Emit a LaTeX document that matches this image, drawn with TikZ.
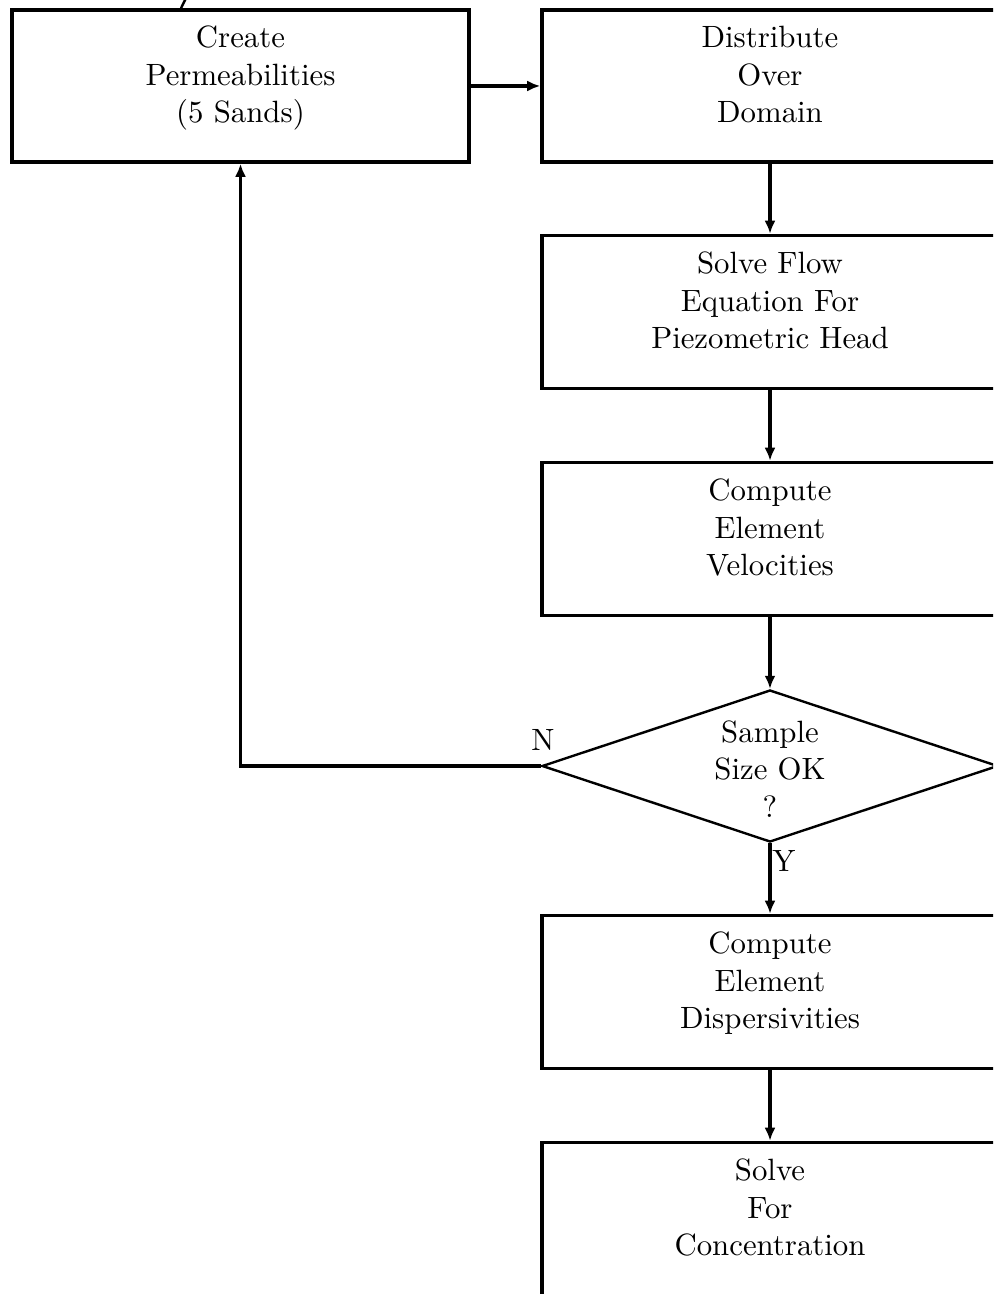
\documentclass[tikz,border=0pt]{standalone}
\usetikzlibrary{shapes.geometric,arrows.meta}
\begin{document}
\begin{tikzpicture}[x=0.5pt,y=-0.5pt,
  boxnode/.style={draw,line width=1.8pt,rectangle,inner sep=0pt,minimum width=228pt,minimum height=76.5pt},
  decnode/.style={draw,line width=1.2pt,diamond,inner sep=0pt,minimum width=228pt,minimum height=76pt},
  txt/.style={align=center,font=\fontsize{10}{12.18}\selectfont,inner sep=0pt,scale=1.54,transform shape,
    execute at begin node=\strut,execute at end node=\strut},
  lbl/.style={font=\fontsize{10}{12.18}\selectfont,inner sep=0pt,scale=1.54,transform shape},
  conn/.style={line width=1.6pt,-{Latex[length=6.5pt,width=5.5pt]}}]
\useasboundingbox (0,0) rectangle (993,1294);
\clip (0,0) rectangle (993,1294);
% boxes
\node[boxnode,minimum width=228.5pt,minimum height=76pt] (b1) at (240.5,86) {};
\node[boxnode,minimum height=76pt] (b2) at (770,86) {};
\node[boxnode] (b3) at (770,312) {};
\node[boxnode] (b4) at (770,539) {};
\node[decnode] (d1) at (770,766) {};
\node[boxnode] (b5) at (770,992) {};
\node[boxnode] (b6) at (770,1219) {};
% texts
\node[txt] (t1) at ([yshift=2.9pt]b1.center) {Create\\Permeabilities\\(5 Sands)};
\node[txt] (t2) at ([yshift=2.9pt]b2.center) {Distribute\\Over\\Domain};
\node[txt] (t3) at ([yshift=2.9pt]b3.center) {Solve Flow\\Equation For\\Piezometric Head};
\node[txt] (t4) at ([yshift=2.9pt]b4.center) {Compute\\Element\\Velocities};
\node[txt] (td) at ([yshift=-4.3pt]d1.center) {Sample\\Size OK\\?};
\node[txt] (t5) at ([yshift=2.9pt]b5.center) {Compute\\Element\\Dispersivities};
\node[txt] (t6) at ([yshift=2.9pt]b6.center) {Solve\\For\\Concentration};
% labels
\node[lbl] (ln) at (543,740) {N};
\node[lbl] (ly) at (784,861) {Y};
% connectors
\draw[conn] (b1.east) -- (b2.west);
\draw[conn] (b2.south) -- (b3.north);
\draw[conn] (b3.south) -- (b4.north);
\draw[conn] (b4.south) -- (d1.north);
\draw[conn] (d1.south) -- (b5.north);
\draw[conn] (b5.south) -- (b6.north);
\draw[conn] (d1.west) -- (b1.south |- d1.west) -- (b1.south);
% cut-off incoming line at top
\coordinate (tin) at ([xshift=-29.75pt]b1.north);
\coordinate (tout) at (189,-8);
\draw[line width=1.2pt] (tin) -- (tout);
\end{tikzpicture}
\end{document}
